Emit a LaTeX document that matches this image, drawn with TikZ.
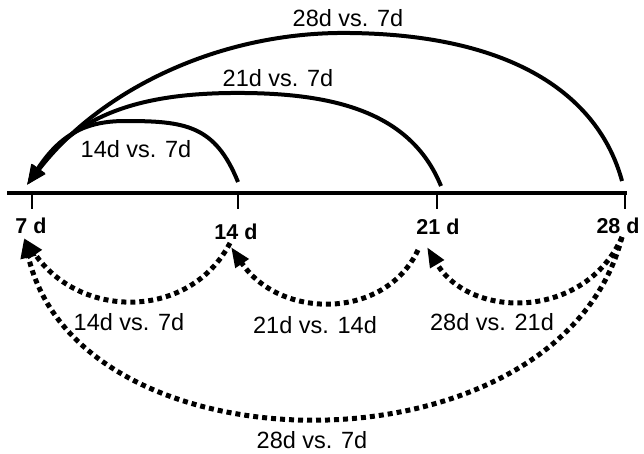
\documentclass[tikz,border=0pt]{standalone}
\usepackage{fontspec}
\setmainfont{Liberation Sans}
\usetikzlibrary{arrows.meta}
\begin{document}
\begin{tikzpicture}[x=1pt,y=-1pt,
  axisline/.style={line width=3.5pt},
  tickline/.style={line width=2pt},
  solidarc/.style={line width=4pt,-{Triangle[length=20pt,width=15pt]}},
  dotarc/.style={line width=5pt,dash pattern=on 5pt off 4pt,-{Triangle[length=20pt,width=15pt]}},
  daylabel/.style={font=\fontsize{21.5}{21.5}\selectfont\bfseries,inner sep=0pt},
  cmplabel/.style={font=\fontsize{23.5}{23.5}\selectfont,inner sep=0pt}]
\useasboundingbox (0,0) rectangle (644,453);
% axis
\coordinate (axL) at (7,193);
\coordinate (axR) at (627,193);
\draw[axisline] (axL) -- (axR);
\coordinate (t7) at (32,193);
\coordinate (t14) at (238,193);
\coordinate (t21) at (437,193);
\coordinate (t28) at (625,193);
\foreach \t in {t7,t14,t21,t28} \draw[tickline] (\t) -- ++(0,16);
% day labels
\node[daylabel] (d7) at (31,226) {7 d};
\node[daylabel] (d14) at (236,232) {14 d};
\node[daylabel] (d21) at (438,227) {21 d};
\node[daylabel] (d28) at (618,226) {28 d};
% upper solid arcs
\coordinate (tip7) at (27,185);
\coordinate (s14) at (238,182);
\coordinate (s21) at (441,186);
\coordinate (s28) at (622,181);
\draw[solidarc] (s28) .. controls (600,100) and (520,35) .. (350,33)
  .. controls (220,31) and (100,90) .. (tip7);
\draw[solidarc] (s21) .. controls (410,110) and (330,92) .. (230,93)
  .. controls (150,94) and (80,110) .. (tip7);
\draw[solidarc] (s14) .. controls (215,125) and (185,121) .. (125,121)
  .. controls (85,121) and (60,135) .. (tip7);
\node[cmplabel] (u28) at (348,18) {28d vs. 7d};
\node[cmplabel] (u21) at (278,78) {21d vs. 7d};
\node[cmplabel] (u14) at (136,149) {14d vs. 7d};
% lower dotted arcs
\coordinate (b7) at (24,238);
\coordinate (b14) at (231,247);
\coordinate (b21) at (427,247);
\coordinate (e14) at (230,243);
\coordinate (e21) at (418,250);
\coordinate (e28) at (622,237);
\draw[dotarc] (e14) .. controls (190,320) and (80,320) .. (b7);
\draw[dotarc] (e21) .. controls (385,320) and (280,320) .. (b14);
\draw[dotarc] (e28) .. controls (585,320) and (470,320) .. (b21);
\draw[dotarc] (e28) .. controls (560,478) and (80,478) .. (b7);
\node[cmplabel] (l14) at (129,322) {14d vs. 7d};
\node[cmplabel] (l21) at (315,325) {21d vs. 14d};
\node[cmplabel] (l28) at (492,322) {28d vs. 21d};
\node[cmplabel] (l287) at (312,440) {28d vs. 7d};
\end{tikzpicture}
\end{document}
